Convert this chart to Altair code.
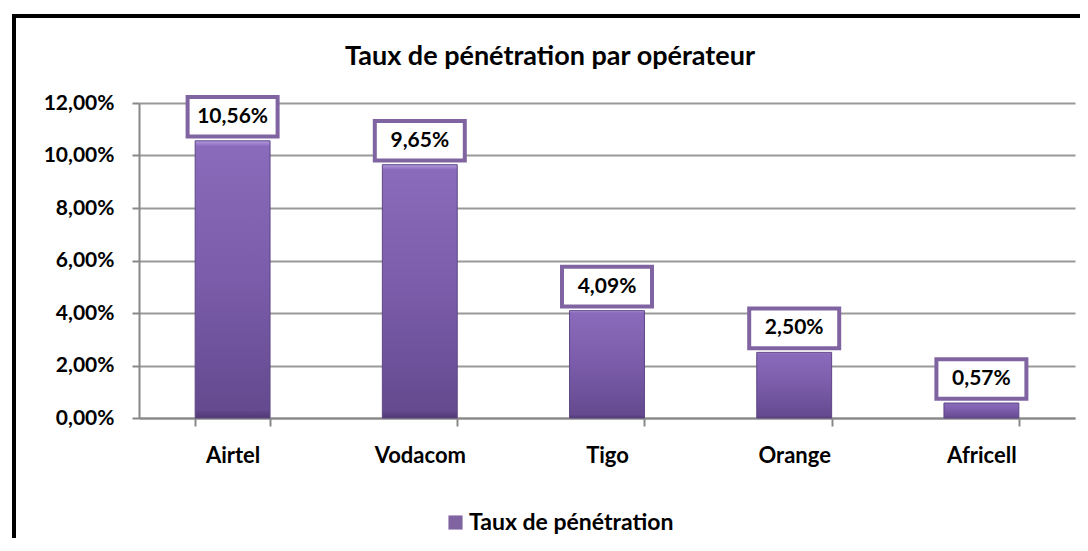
import altair as alt
import pandas as pd

operators = ["Airtel", "Vodacom", "Tigo", "Orange", "Africell"]
rates = [0.1056, 0.0965, 0.0409, 0.0250, 0.0057]
series_name = "Taux de pénétration"
title_text = "Taux de pénétration par opérateur"
y_ticks = [0, 0.02, 0.04, 0.06, 0.08, 0.10, 0.12]

df = pd.DataFrame({"op": operators, "rate": rates, "serie": [series_name] * len(operators)})

FONT = "Lato"
PURPLE = "#8064A2"

base = alt.Chart(df).encode(
    x=alt.X("op:N", sort=operators, title=None,
            scale=alt.Scale(paddingInner=0.6, paddingOuter=0.3),
            axis=alt.Axis(labelAngle=0, labelFont=FONT, labelFontSize=22, labelFontWeight="bold",
                          labelColor="#000", labelPadding=19, tickBand="extent", tickSize=8,
                          tickColor="#888", tickWidth=2, domainColor="#888", domainWidth=2)),
)

grad = alt.Gradient(
    gradient="linear", x1=0, x2=0, y1=0, y2=1,
    stops=[alt.GradientStop(offset=0, color="#b49ae0"),
           alt.GradientStop(offset=0.02, color="#8a6bbb"),
           alt.GradientStop(offset=0.5, color="#7a5caa"),
           alt.GradientStop(offset=0.97, color="#654a8f"),
           alt.GradientStop(offset=1, color="#4f3873")],
)

bars = base.mark_bar(fill=grad, stroke="#5e4685", strokeWidth=1).encode(
    y=alt.Y("rate:Q", title=None, scale=alt.Scale(domain=[0, 0.12], nice=False),
            axis=alt.Axis(values=y_ticks,
                          labelExpr="replace(format(datum.value, '.2%'), '.', ',')",
                          labelFont=FONT, labelFontSize=21, labelFontWeight="bold", labelColor="#000",
                          labelPadding=18, tickSize=7, tickColor="#888", tickWidth=2,
                          domainColor="#888", domainWidth=2,
                          grid=True, gridColor="#999", gridWidth=2)),
    color=alt.Color("serie:N", title=None,
                    scale=alt.Scale(range=[PURPLE]),
                    legend=alt.Legend(orient="none", legendX=305, legendY=408, symbolType="square",
                                      symbolSize=200, symbolStrokeWidth=0, labelLimit=400,
                                      labelFont=FONT, labelFontSize=23, labelFontWeight="bold",
                                      labelColor="#000", labelOffset=2)),
)

box_shape = "M-1,-0.44L1,-0.44L1,0.44L-1,0.44Z"
boxes = base.mark_point(shape=box_shape, size=8100, filled=True, fill="white", stroke=PURPLE,
                        strokeWidth=4, opacity=1, yOffset=-24).encode(y="rate:Q")

labels = base.transform_calculate(
    lab="replace(format(datum.rate, '.2%'), '.', ',')"
).mark_text(font=FONT, fontSize=21, fontWeight="bold", color="#000", yOffset=-24,
            baseline="middle").encode(y="rate:Q", text="lab:N")

title_df = pd.DataFrame({"t": [title_text]})
title = alt.Chart(title_df).mark_text(font=FONT, fontSize=27, fontWeight="bold", color="#000",
                                      baseline="middle", align="center").encode(
    text="t:N", x=alt.value(411), y=alt.value(-46))

frame_top = alt.Chart(df).mark_rule(color="#000", strokeWidth=4).encode(
    x=alt.value(-125), x2=alt.value(960), y=alt.value(-87))
frame_left = alt.Chart(df).mark_rule(color="#000", strokeWidth=4).encode(
    x=alt.value(-125), y=alt.value(-89), y2=alt.value(450))

chart = (frame_top + frame_left + title + bars + boxes + labels).properties(
    width=936, height=315,
    padding={"left": 131, "top": 95, "right": 5, "bottom": 120},
    autosize=alt.AutoSizeParams(type="none"),
).configure_view(stroke=None)

chart.save("out.html", embed_options={"renderer": "svg", "actions": False})
